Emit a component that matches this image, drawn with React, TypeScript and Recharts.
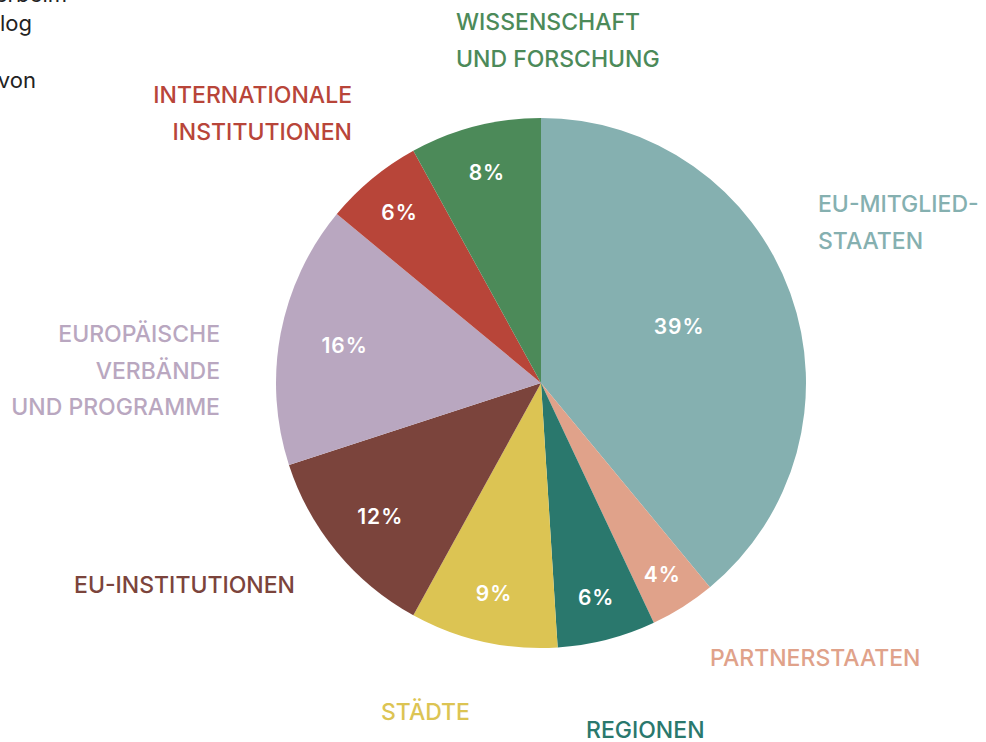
import { Cell, Pie, PieChart } from "recharts";

const groups = [
  "EU-Mitgliedstaaten",
  "Partnerstaaten",
  "Regionen",
  "Städte",
  "EU-Institutionen",
  "Europäische Verbände und Programme",
  "Internationale Institutionen",
  "Wissenschaft und Forschung",
];

const shares = [39, 4, 6, 9, 12, 16, 6, 8];

const labelLines = [
  ["EU-MITGLIED-", "STAATEN"],
  ["PARTNERSTAATEN"],
  ["REGIONEN"],
  ["STÄDTE"],
  ["EU-INSTITUTIONEN"],
  ["EUROPÄISCHE", "VERBÄNDE", "UND PROGRAMME"],
  ["INTERNATIONALE", "INSTITUTIONEN"],
  ["WISSENSCHAFT", "UND FORSCHUNG"],
];

const colors = [
  "#85b0b0",
  "#e0a28a",
  "#2a786d",
  "#dcc453",
  "#7b443c",
  "#b9a7c0",
  "#b84539",
  "#4c8a59",
];

// hand placed outer labels: x, first baseline, anchor
const outerPos: [number, number, "start" | "end"][] = [
  [818, 212, "start"],
  [710, 666, "start"],
  [586, 738, "start"],
  [381, 720, "start"],
  [295, 593, "end"],
  [220, 342, "end"],
  [352, 103, "end"],
  [456, 30, "start"],
];

const introLines = ["Akteure erbeim", "im Dialog", "", "Auswahl von"];

const data = groups.map((name, i) => ({ name, value: shares[i] }));

const RAD = Math.PI / 180;

function renderLabel(props: any) {
  const { cx, cy, midAngle, outerRadius, percent, index, value } = props;
  // bigger slices get their number pulled further in
  const r = outerRadius * (0.887 - 0.83 * percent);
  const ang = percent > 0.3 ? midAngle + 2.5 : midAngle;
  const x = cx + r * Math.cos(-ang * RAD);
  const y = cy + r * Math.sin(-ang * RAD);
  const [ox, oy, anchor] = outerPos[index];
  return (
    <g>
      <text
        x={x}
        y={y}
        fill="#fff"
        textAnchor="middle"
        dominantBaseline="central"
        fontFamily="Inter"
        fontWeight={600}
        fontSize={21}
        letterSpacing={1}
      >
        {value}%
      </text>
      <text
        x={ox}
        y={oy}
        fill={colors[index]}
        textAnchor={anchor}
        fontFamily="Inter"
        fontWeight={500}
        fontSize={23}
      >
        {labelLines[index].map((line, k) => (
          <tspan key={k} x={ox} dy={k === 0 ? 0 : 36.5}>
            {line}
          </tspan>
        ))}
      </text>
    </g>
  );
}

export default function App() {
  return (
    <div
      style={{
        position: "absolute",
        left: 0,
        top: 0,
        width: 986,
        height: 742,
        overflow: "hidden",
        background: "#fff",
      }}
    >
      {introLines.map((t, i) => (
        <div
          key={i}
          style={{
            position: "absolute",
            right: 986 - [67, 32, 0, 36][i],
            top: -20 + i * 28.5,
            whiteSpace: "nowrap",
            fontFamily: "Inter",
            fontSize: 22,
            lineHeight: "28px",
            color: "#222",
          }}
        >
          {t}
        </div>
      ))}
      <PieChart
        width={986}
        height={742}
        margin={{ top: 0, right: 0, bottom: 0, left: 0 }}
        style={{ position: "absolute", left: 0, top: 0 }}
      >
        <Pie
          data={data}
          dataKey="value"
          nameKey="name"
          cx={541}
          cy={383}
          outerRadius={265}
          startAngle={90}
          endAngle={-270}
          stroke="none"
          label={renderLabel}
          labelLine={false}
          isAnimationActive={false}
        >
          {data.map((d, i) => (
            <Cell key={d.name} fill={colors[i]} />
          ))}
        </Pie>
      </PieChart>
    </div>
  );
}
